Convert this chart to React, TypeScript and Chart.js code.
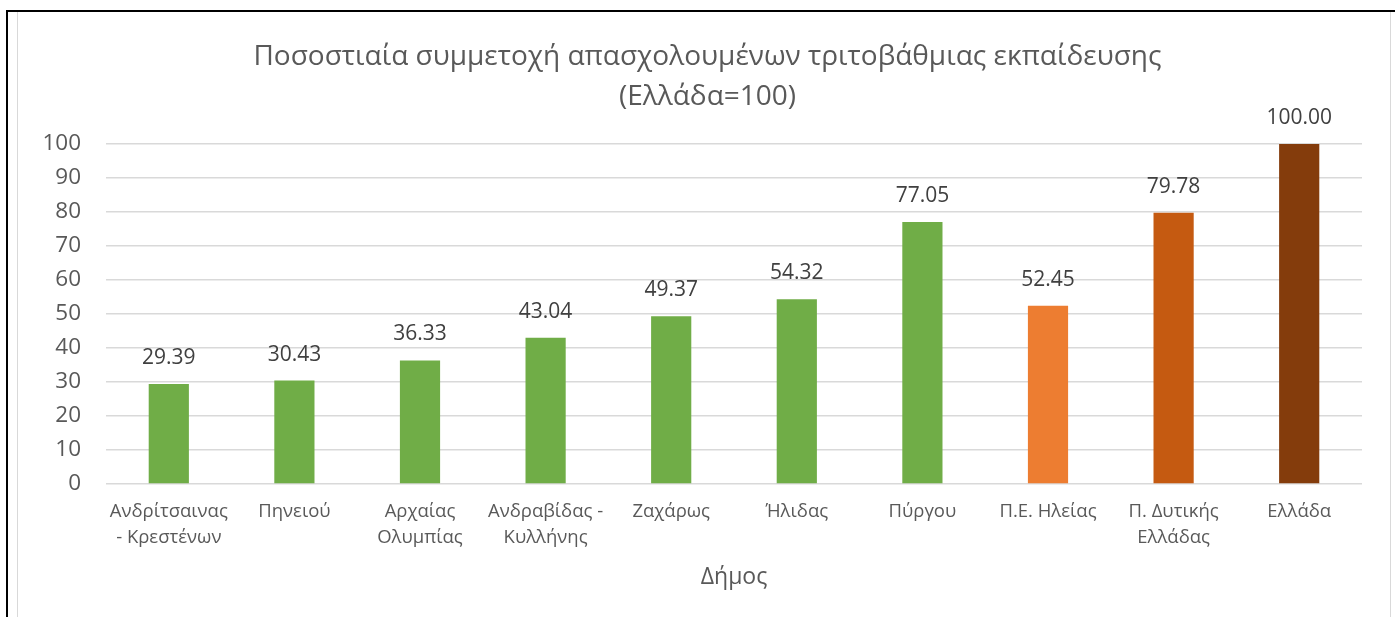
import React, { useEffect, useRef } from "react";
import { Chart, registerables } from "chart.js";

Chart.register(...registerables);

const categories: (string | string[])[] = [
  ["Ανδρίτσαινας", "- Κρεστένων"],
  "Πηνειού",
  ["Αρχαίας", "Ολυμπίας"],
  ["Ανδραβίδας -", "Κυλλήνης"],
  "Ζαχάρως",
  "Ήλιδας",
  "Πύργου",
  "Π.Ε. Ηλείας",
  ["Π. Δυτικής", "Ελλάδας"],
  "Ελλάδα",
];

const values: number[] = [29.39, 30.43, 36.33, 43.04, 49.37, 54.32, 77.05, 52.45, 79.78, 100.0];

const barColors: string[] = [
  "#70AD47", "#70AD47", "#70AD47", "#70AD47", "#70AD47", "#70AD47", "#70AD47",
  "#ED7D31", "#C55A11", "#843C0C",
];

const titleLines: string[] = [
  "Ποσοστιαία συμμετοχή απασχολουμένων τριτοβάθμιας εκπαίδευσης",
  "(Ελλάδα=100)",
];

const axisTitle = "Δήμος";

const FONT = '"Open Sans", "Noto Sans", sans-serif';

const valueLabels = {
  id: "valueLabels",
  afterDatasetsDraw(chart: any) {
    const { ctx } = chart;
    const meta = chart.getDatasetMeta(0);
    ctx.save();
    ctx.font = `21px ${FONT}`;
    ctx.fillStyle = "#404040";
    ctx.textAlign = "center";
    ctx.textBaseline = "middle";
    meta.data.forEach((bar: any, i: number) => {
      const v = chart.data.datasets[0].data[i] as number;
      ctx.fillText(v.toFixed(2), bar.x, bar.y - 26);
    });
    ctx.restore();
  },
};

export default function App() {
  const ref = useRef<HTMLCanvasElement>(null);

  useEffect(() => {
    if (!ref.current) return;
    Chart.defaults.font.family = FONT;
    const chart = new Chart(ref.current, {
      type: "bar",
      data: {
        labels: categories,
        datasets: [
          {
            data: values,
            backgroundColor: barColors,
            borderWidth: 0,
            barPercentage: 0.32,
            categoryPercentage: 1,
            yAxisID: "y",
          },
        ],
      },
      options: {
        responsive: false,
        animation: false,
        devicePixelRatio: 1,
        layout: { padding: { left: 7, right: 0, top: 0, bottom: 0 } },
        plugins: {
          legend: { display: false },
          tooltip: { enabled: false },
          title: {
            display: true,
            text: titleLines,
            color: "#595959",
            font: { size: 28, weight: "normal", lineHeight: 40 / 28 },
            padding: { top: 25, bottom: 27 },
          },
        },
        scales: {
          x: {
            grid: { display: false, drawTicks: false },
            border: { display: false },
            ticks: {
              color: "#595959",
              font: { size: 18.5, lineHeight: 26 / 18.5 },
              padding: 15,
              autoSkip: false,
              maxRotation: 0,
              minRotation: 0,
            },
            title: {
              display: true,
              text: axisTitle,
              color: "#595959",
              font: { size: 23, lineHeight: 1.2 },
              padding: { top: 0, bottom: 26 },
            },
            afterFit: (scale: any) => {
              scale.height = 133;
            },
          },
          y: {
            min: 0,
            max: 100,
            ticks: {
              stepSize: 10,
              color: "#595959",
              font: { size: 22.5 },
              padding: 25,
            },
            grid: { color: "#d9d9d9", lineWidth: 1.5, drawTicks: false },
            border: { display: false },
            afterFit: (scale: any) => {
              scale.width = 81;
            },
          },
          yRight: {
            position: "right",
            display: true,
            grid: { display: false, drawTicks: false },
            border: { display: false },
            ticks: { display: false },
            afterFit: (scale: any) => {
              scale.width = 28;
            },
          },
        },
      },
      plugins: [valueLabels],
    });
    return () => chart.destroy();
  }, []);

  return (
    <div
      style={{
        position: "fixed",
        left: 0,
        top: 0,
        width: 1395,
        height: 617,
        overflow: "hidden",
        background: "#fff",
      }}
    >
      <div
        style={{
          position: "absolute",
          left: 6,
          top: 10,
          width: 1400,
          height: 620,
          borderTop: "2px solid #000",
          borderLeft: "2px solid #000",
        }}
      />
      <div
        style={{
          position: "absolute",
          left: 17,
          top: 12,
          width: 1372,
          height: 620,
          borderLeft: "1px solid #d9d9d9",
          borderRight: "1px solid #d9d9d9",
        }}
      />
      <canvas
        ref={ref}
        width={1372}
        height={605}
        style={{ position: "absolute", left: 18, top: 12, width: 1372, height: 605 }}
      />
    </div>
  );
}
